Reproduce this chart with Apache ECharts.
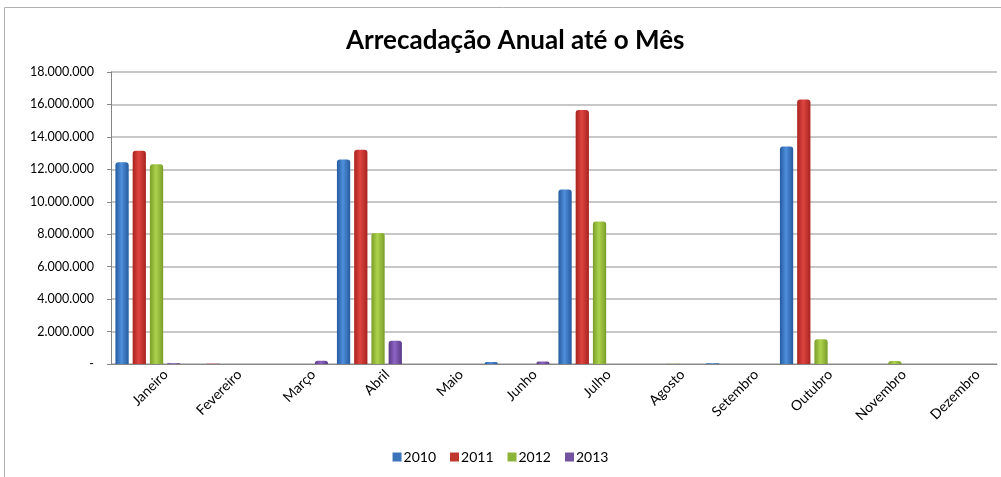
<!DOCTYPE html>
<html>
<head>
<meta charset="utf-8">
<script src="https://cdn.jsdelivr.net/npm/echarts@6/dist/echarts.min.js"></script>
<style>
  html, body { margin: 0; padding: 0; background: #fff; }
  #chart { width: 1001px; height: 477px; }
</style>
</head>
<body>
<div id="chart"></div>
<script>
const months = ['Janeiro', 'Fevereiro', 'Março', 'Abril', 'Maio', 'Junho',
  'Julho', 'Agosto', 'Setembro', 'Outubro', 'Novembro', 'Dezembro']
const years = ['2010', '2011', '2012', '2013']

// values (R$)
const v2010 = [12430000, 0, 0, 12600000, 0, 120000, 10750000, 0, 50000, 13400000, 0, 0]
const v2011 = [13150000, 20000, 0, 13200000, 0, 0, 15650000, 0, 0, 16300000, 0, 0]
const v2012 = [12320000, 0, 0, 8070000, 0, 0, 8790000, 20000, 0, 1520000, 190000, 0]
const v2013 = [40000, 0, 200000, 1440000, 0, 150000, 0, 0, 0, 0, 0, 0]

const yTicks = [0, 2000000, 4000000, 6000000, 8000000, 10000000, 12000000, 14000000, 16000000, 18000000]

// cylinder-ish shading: dark edges, lighter centre
const shade = (edge, mid) => new echarts.graphic.LinearGradient(0, 0, 1, 0, [
  { offset: 0, color: edge },
  { offset: 0.45, color: mid },
  { offset: 1, color: edge }
])

const palette = [
  shade('#255a9e', '#4f8fdc'),
  shade('#a8231f', '#de4540'),
  shade('#7a9e27', '#acd24e'),
  shade('#5a3a85', '#8d64c3')
]
const legendColors = ['#3b73b9', '#c0392f', '#8db43a', '#7352a0']

const fmt = (v) => v === 0 ? '-' : v.toLocaleString('pt-BR')

const chart = echarts.init(document.getElementById('chart'))

chart.setOption({
  animation: false,
  textStyle: { fontFamily: 'Lato, "Open Sans", sans-serif' },
  graphic: [{
    type: 'rect',
    shape: { x: 4.5, y: 7.5, width: 1010, height: 480 },
    style: { fill: 'none', stroke: '#b0b0b0', lineWidth: 1 }
  }],
  title: {
    text: 'Arrecadação Anual até o Mês',
    left: 341,
    top: 23,
    textStyle: { fontSize: 26, fontWeight: 'bold', color: '#000', fontFamily: 'Lato, sans-serif' }
  },
  legend: {
    bottom: 8,
    left: 'center',
    itemWidth: 9,
    itemHeight: 9,
    itemGap: 14,
    icon: 'rect',
    textStyle: { fontSize: 14, color: '#000', padding: [0, 0, 0, -3] },
    data: years.map((y, i) => ({ name: y, itemStyle: { color: legendColors[i] } }))
  },
  grid: { left: 111, right: 4, top: 72, bottom: 113 },
  xAxis: {
    type: 'category',
    data: months,
    axisLine: { lineStyle: { color: '#868686' } },
    axisTick: { show: false },
    axisLabel: {
      rotate: 45, margin: 16, fontSize: 14, color: '#000', interval: 0,
      verticalAlign: 'top', padding: [0, -18, 0, 0]
    }
  },
  yAxis: {
    type: 'value',
    min: yTicks[0],
    max: yTicks[yTicks.length - 1],
    interval: 2000000,
    axisLine: { show: true, lineStyle: { color: '#868686' } },
    axisTick: { show: true, length: 4, lineStyle: { color: '#868686' } },
    splitLine: { lineStyle: { color: '#b4b4b4', width: 1.5 } },
    axisLabel: { fontSize: 12.5, color: '#000', margin: 17, formatter: fmt }
  },
  series: [v2010, v2011, v2012, v2013].map((vals, i) => ({
    name: years[i],
    type: 'bar',
    data: vals,
    barGap: '30%',
    barCategoryGap: '12%',
    itemStyle: { color: palette[i], borderRadius: [3, 3, 0, 0] }
  }))
})
</script>
</body>
</html>
